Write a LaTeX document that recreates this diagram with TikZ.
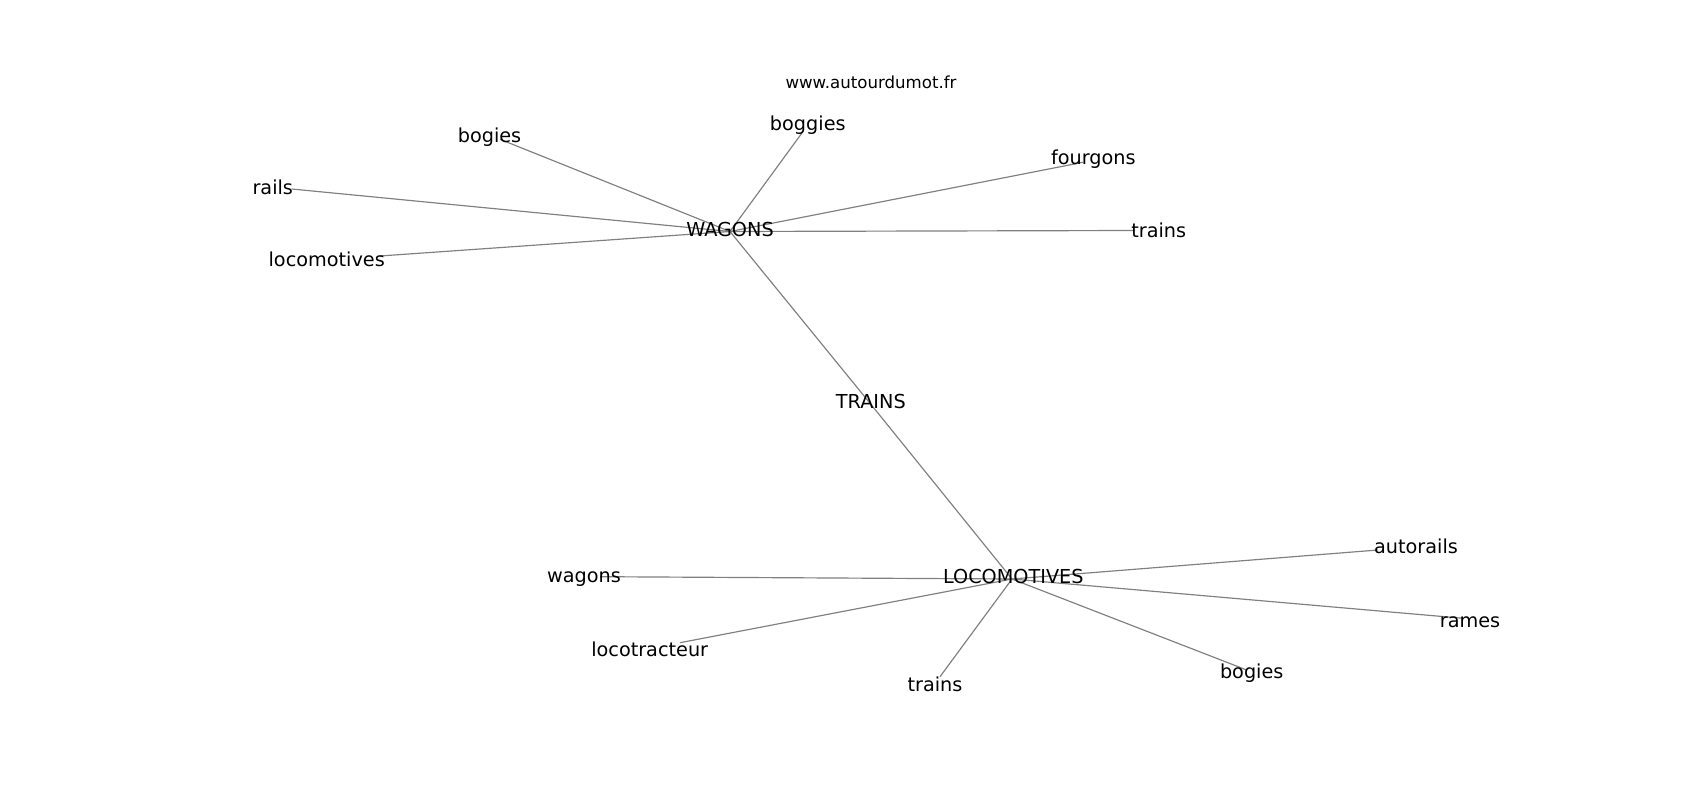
\documentclass[tikz,border=0pt]{standalone}
\usepackage{fontspec}
\setmainfont{DejaVu Sans}
\begin{document}
\begin{tikzpicture}[x=0.01in,y=-0.01in,
  lbl/.style={anchor=base,inner sep=0pt,font=\fontsize{13.9}{16}\selectfont,text=black},
  ttl/.style={anchor=base,inner sep=0pt,font=\fontsize{12}{14}\selectfont,text=black},
  edge/.style={draw=black!50,line width=0.85pt}]
\useasboundingbox (0,0) rectangle (1700,800);
% node positions
\coordinate (pWAG) at (730,231.5);
\coordinate (pLOC) at (1012,579);
\coordinate (pTRA) at (869,402);
\coordinate (pbog1) at (500,139.3);
\coordinate (prai) at (291.7,189);
\coordinate (ploc) at (380,256);
\coordinate (pbgg) at (801.7,133.3);
\coordinate (pfou) at (1083,162.3);
\coordinate (ptra1) at (1135,230.5);
\coordinate (paut) at (1378,550);
\coordinate (pwag) at (600,576.7);
\coordinate (pram) at (1463,618.3);
\coordinate (plct) at (680,642.7);
\coordinate (pbog2) at (1246.7,670);
\coordinate (ptra2) at (940,676.7);
% edges
\foreach \t in {pbog1,prai,ploc,pbgg,pfou,ptra1}
  \draw[edge] (pWAG) -- (\t);
\foreach \t in {paut,pwag,pram,plct,pbog2,ptra2}
  \draw[edge] (pLOC) -- (\t);
\draw[edge] (pWAG) -- (pTRA);
\draw[edge] (pTRA) -- (pLOC);
% labels
\node[ttl] (title) at (871,89) {www.autourdumot.fr};
\node[lbl] (lbgg) at (807.8,131) {boggies};
\node[lbl] (lbog1) at (489.5,142.5) {bogies};
\node[lbl] (lfou) at (1093.3,164.3) {fourgons};
\node[lbl] (lrai) at (272.8,194.3) {rails};
\node[lbl] (lWAG) at (730,236.7) {WAGONS};
\node[lbl] (ltra1) at (1158.7,237.7) {trains};
\node[lbl] (lloc) at (326.7,267) {locomotives};
\node[lbl] (lTRA) at (870.8,408.3) {TRAINS};
\node[lbl] (laut) at (1416,553.3) {autorails};
\node[lbl] (lwag) at (584,582.7) {wagons};
\node[lbl] (lLOC) at (1013.3,583.3) {LOCOMOTIVES};
\node[lbl] (lram) at (1470,627) {rames};
\node[lbl] (llct) at (649.7,656) {locotracteur};
\node[lbl] (lbog2) at (1251.7,678.3) {bogies};
\node[lbl] (ltra2) at (935,691) {trains};
\end{tikzpicture}
\end{document}
